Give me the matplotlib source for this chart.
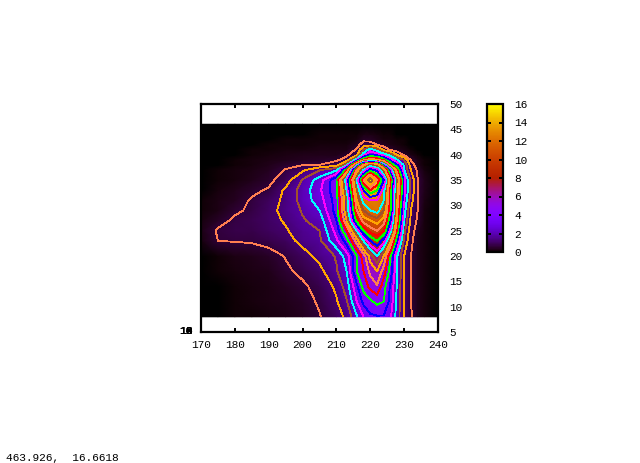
import numpy as np
import matplotlib
matplotlib.use('Agg')
import matplotlib.pyplot as plt

plt.rcParams['font.family'] = 'Liberation Mono'
plt.rcParams['font.size'] = 8

xs = [170, 175, 180, 185, 190, 195, 200, 205, 210, 213, 216, 218, 220, 222, 224, 226, 228, 230, 232, 234, 236, 240]
ys = [8, 11, 14, 17, 20, 23, 25, 27, 29, 31, 33, 35, 37, 38, 39, 40, 41, 42, 43, 44, 46]

# values, one row per y
y08 = [.03, .06, .09, .12, .18, .24, .36, .57, .96, 1.32, 2.34, 3.0, 3.48, 3.54, 3.54, 3.06, 2.1, 1.14, .66, .3, .18, .06]
y11 = [.03, .06, .09, .15, .21, .3, .42, .66, 1.14, 1.74, 3.0, 3.78, 4.08, 4.38, 4.2, 3.36, 2.16, 1.14, .6, .3, .18, .06]
y14 = [.03, .06, .12, .18, .24, .36, .51, .78, 1.32, 2.1, 3.48, 4.44, 4.98, 5.34, 4.44, 3.48, 2.28, 1.2, .6, .3, .18, .06]
y17 = [.06, .09, .15, .21, .3, .51, .72, 1.02, 1.74, 2.4, 4.2, 4.8, 5.58, 6, 5.1, 3.9, 2.4, 1.2, .6, .3, .18, .06]
y20 = [.06, .12, .21, .27, .39, .63, .96, 1.38, 1.86, 2.7, 4.2, 5.1, 6.3, 7.2, 6, 4.2, 2.4, 1.2, .6, .3, .18, .06]
y23 = [.18, .6, .63, .66, .78, .96, 1.38, 1.68, 2.88, 3.9, 5.7, 7.2, 8.4, 9, 8.1, 6, 3.6, 1.68, .72, .3, .18, .06]
y25 = [.21, .66, .75, .81, .96, 1.14, 1.5, 1.8, 3.24, 4.8, 7.2, 9, 9.9, 10.2, 9.6, 7.5, 4.5, 1.98, .84, .36, .18, .06]
y27 = [.18, .42, .69, .84, 1.02, 1.26, 1.74, 2.04, 3.6, 6, 9.3, 10.5, 10.8, 11.1, 10.5, 8.4, 5.1, 2.4, 1.08, .5, .18, .06]
y29 = [.12, .24, .51, .69, 1.02, 1.38, 1.86, 2.4, 3.9, 6.6, 10.2, 11.4, 12, 12.3, 11.4, 9, 5.4, 2.7, 1.2, .6, .18, .06]
y31 = [.09, .21, .36, .66, .96, 1.32, 2.04, 2.7, 3.9, 6.6, 10.8, 12.3, 12.6, 12.6, 12, 9, 5.7, 3, 1.44, .6, .24, .06]
y33 = [.06, .18, .3, .48, .66, 1.32, 2.04, 2.88, 4.08, 7.2, 11.4, 13.2, 14.4, 13.8, 12.3, 9, 6, 3.3, 1.68, .6, .3, .06]
y35 = [.06, .12, .18, .3, .45, .9, 1.86, 2.7, 4.08, 7.8, 12, 15, 16.8, 15, 13.2, 9.6, 6.3, 3.3, 1.68, .63, .3, .06]
y37 = [.06, .12, .15, .24, .36, .63, 1.08, 1.74, 2.28, 4.5, 10.2, 12, 13.5, 12.9, 10.8, 7.8, 4.8, 2.4, 1.2, .48, .18, .06]
y38 = [.03, .06, .12, .18, .3, .45, .57, .6, .96, 2.16, 6.6, 10.2, 11.4, 10.8, 7.8, 4.8, 3.6, 2.28, .9, .3, .12, .06]
y39 = [.03, .06, .09, .15, .24, .3, .36, .42, .48, .84, 2.7, 4.8, 5.7, 5.4, 4.5, 3.3, 2.4, 1.74, .54, .24, .12, .03]
y40 = [.03, .06, .06, .12, .18, .24, .27, .3, .3, .48, 1.02, 2.7, 3.6, 3.3, 2.7, 2.1, 1.08, .48, .24, .12, .06, .03]
y41 = [.03, .03, .06, .09, .12, .18, .18, .21, .21, .24, .66, 1.8, 2.7, 2.1, .96, .48, .3, .21, .12, .06, .03, .03]
y42 = [.03, .03, .06, .06, .09, .12, .12, .15, .15, .18, .36, .9, .84, .57, .36, .24, .18, .12, .06, .06, .03, .03]
y43 = [.02, .02, .04, .05, .06, .08, .09, .1, .1, .12, .18, .42, .42, .3, .18, .14, .1, .08, .05, .04, .02, .02]
y44 = [.02, .02, .03, .04, .05, .06, .06, .07, .07, .08, .12, .2, .2, .15, .1, .08, .06, .05, .04, .03, .02, .02]
y46 = [.01, .01, .01, .02, .02, .02, .02, .03, .03, .03, .04, .05, .05, .05, .04, .03, .03, .02, .02, .01, .01, .01]

xtick_locs = [170, 180, 190, 200, 210, 220, 230, 240]
ytick_locs = [5, 10, 15, 20, 25, 30, 35, 40, 45, 50]
cbar_ticks = [0, 2, 4, 6, 8, 10, 12, 14, 16]
stray_labels = ['10', '12', '14', '16', '0', '2', '4', '6', '8']
status_text = '463.926,  16.6618'
# gnuplot line colours, lowest contour first
line_colors = ['#ff7f50', '#ffa500', '#a0522d', '#00ffff', '#ff00ff', '#0000ff', '#00ff00', '#ff0000']

Z = np.array([y08, y11, y14, y17, y20, y23, y25, y27, y29, y31, y33, y35, y37, y38,
              y39, y40, y41, y42, y43, y44, y46])
levels = np.arange(0.6, 16.8, 0.6)

fig = plt.figure(figsize=(6.4, 4.63), dpi=100)
ax = fig.add_axes([201 / 640, 1 - 332 / 463, 237 / 640, 228 / 463])
mesh = ax.pcolormesh(xs, ys, Z, cmap='gnuplot', vmin=0, vmax=16, shading='gouraud')
cs = ax.contour(xs, ys, Z, levels=levels, colors=line_colors, linewidths=0.6, antialiased=False)

ax.set_xlim(170, 240)
ax.set_ylim(5, 50)
ax.set_axisbelow(True)
ax.set_xticks(xtick_locs)
ax.set_yticks(ytick_locs)
ax.yaxis.tick_right()
ax.tick_params(axis='x', direction='in', top=True, bottom=True, length=3, width=1.4, pad=6)
ax.tick_params(axis='y', direction='in', right=True, left=False, length=3, width=1.4, pad=8)
for s in ax.spines.values():
    s.set_linewidth(1.6)

cax = fig.add_axes([487 / 640, 1 - 252 / 463, 16 / 640, 148 / 463])
cb = fig.colorbar(mesh, cax=cax)
cb.set_ticks(cbar_ticks)
cax.tick_params(direction='in', left=True, right=True, length=3, width=1.4, pad=8)
cb.outline.set_linewidth(1.6)

# the z axis labels all land on one spot in the lower left corner
for lab in stray_labels:
    fig.text(192 / 640, 1 - 331 / 463, lab, ha='right', va='center')

fig.text(6 / 640, 1 - 458 / 463, status_text, ha='left', va='center')

plt.savefig('out.png', dpi=100)
